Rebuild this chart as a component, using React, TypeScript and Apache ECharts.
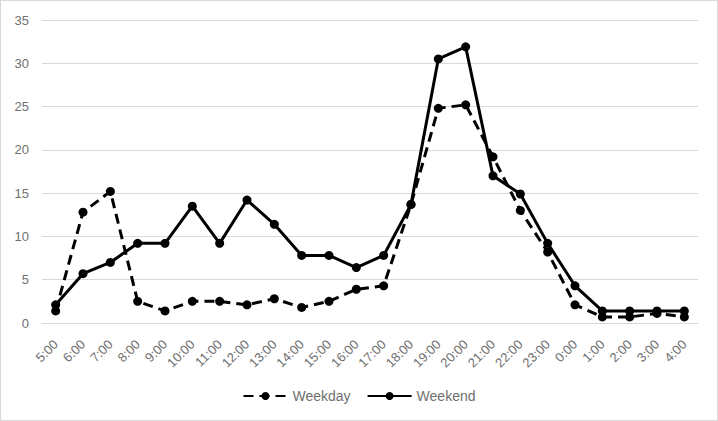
import React, { useEffect, useRef } from "react";
import * as echarts from "echarts";

const categories = ["5:00","6:00","7:00","8:00","9:00","10:00","11:00","12:00","13:00","14:00","15:00","16:00","17:00","18:00","19:00","20:00","21:00","22:00","23:00","0:00","1:00","2:00","3:00","4:00"];
const weekday = [1.4,12.8,15.2,2.5,1.4,2.5,2.5,2.1,2.8,1.8,2.5,3.9,4.3,13.7,24.8,25.2,19.2,13.0,8.2,2.1,0.7,0.7,1.1,0.7];
const weekend = [2.1,5.7,7.0,9.2,9.2,13.5,9.2,14.2,11.4,7.8,7.8,6.4,7.8,13.7,30.5,31.9,17.0,14.9,9.2,4.3,1.4,1.4,1.4,1.4];
const yTicks = [0, 5, 10, 15, 20, 25, 30, 35];

const FONT = "'Liberation Sans Narrow', 'Liberation Sans', Arial, sans-serif";
const LABEL = "#6f6f6f";

export default function App() {
  const ref = useRef<HTMLDivElement>(null);
  useEffect(() => {
    document.body.style.margin = "0";
    const chart = echarts.init(ref.current!, null, { renderer: "svg" });
    chart.setOption({
      animation: false,
      backgroundColor: "#ffffff",
      grid: { left: 41, right: 19, top: 19, bottom: 97, containLabel: false },
      legend: {
        bottom: 12,
        left: "center",
        itemWidth: 44,
        itemHeight: 10,
        itemGap: 16,
        textStyle: { color: LABEL, fontSize: 14, fontFamily: FONT },
        data: ["Weekday", "Weekend"],
      },
      xAxis: {
        type: "category",
        data: categories,
        boundaryGap: true,
        axisLine: { show: true, lineStyle: { color: "#d9d9d9", width: 1 } },
        axisTick: { show: false },
        axisLabel: { color: LABEL, fontSize: 13, fontFamily: FONT, rotate: 45, interval: 0, margin: 19 },
      },
      yAxis: {
        type: "value",
        min: yTicks[0],
        max: yTicks[yTicks.length - 1],
        interval: 5,
        axisLine: { show: false },
        axisTick: { show: false },
        splitLine: { lineStyle: { color: "#d9d9d9", width: 1 } },
        axisLabel: { color: LABEL, fontSize: 13, fontFamily: FONT, margin: 13 },
      },
      series: [
        {
          name: "Weekday",
          type: "line",
          data: weekday,
          symbol: "circle",
          symbolSize: 9,
          lineStyle: { color: "#000", width: 3, type: [10, 6] },
          itemStyle: { color: "#000" },
        },
        {
          name: "Weekend",
          type: "line",
          data: weekend,
          symbol: "circle",
          symbolSize: 9,
          lineStyle: { color: "#000", width: 3 },
          itemStyle: { color: "#000" },
        },
      ],
    });
    return () => chart.dispose();
  }, []);
  return (
    <div
      ref={ref}
      style={{ width: 718, height: 421, boxSizing: "border-box", border: "1px solid #d9d9d9" }}
    />
  );
}
